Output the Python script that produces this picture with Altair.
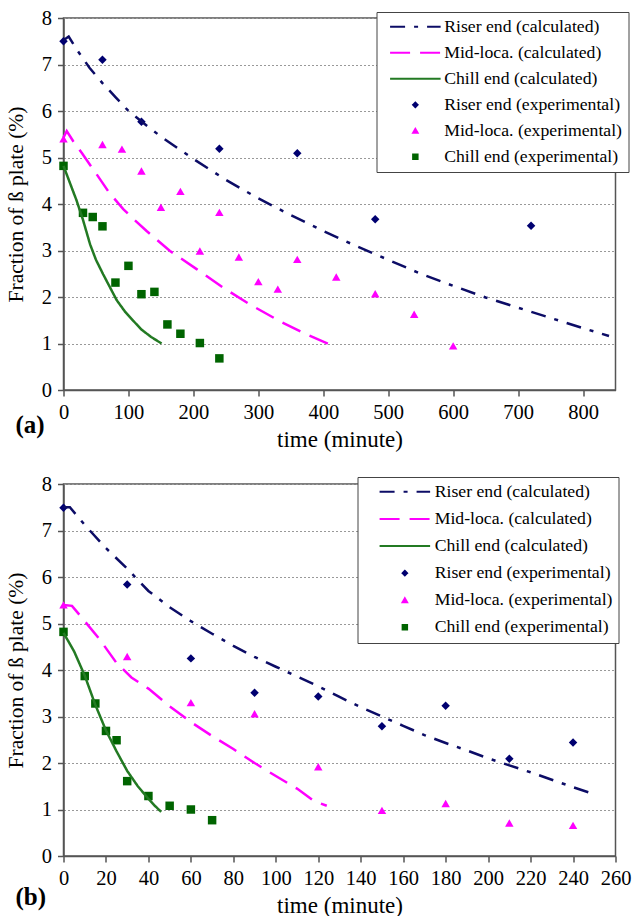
import altair as alt
import pandas as pd

SERIF = "Liberation Serif"

# ---------------- series names / styles ----------------
names_calc = ["Riser end (calculated)", "Mid-loca. (calculated)", "Chill end (calculated)"]
names_exp = ["Riser end (experimental)", "Mid-loca. (experimental)", "Chill end (experimental)"]
legend_order = names_calc + names_exp
series_colors = ["#0c0c66", "#ff00ff", "#237a23", "#000070", "#ff00ff", "#006400"]
stroke_path = "M-11.3,0L11.3,0"
series_shapes = [stroke_path, stroke_path, stroke_path, "diamond", "triangle-up", "square"]
series_dashes = [[15, 9, 4, 9], [20, 10], [1, 0], [1, 0], [1, 0], [1, 0]]

# ---------------- panel (a) data ----------------
a_riser_calc_t = [0, 8, 20, 40, 60, 80, 100, 125, 150, 200, 250, 300, 350, 400, 450, 500, 550, 600, 650, 700, 750, 800, 840]
a_riser_calc_v = [7.52, 7.6, 7.33, 6.93, 6.6, 6.3, 6.0, 5.72, 5.45, 4.97, 4.52, 4.12, 3.76, 3.42, 3.1, 2.8, 2.5, 2.24, 1.99, 1.77, 1.55, 1.33, 1.16]
a_mid_calc_t = [0, 5, 15, 28, 51, 70, 92, 110, 128, 164, 205, 246, 287, 333, 369, 415]
a_mid_calc_v = [5.43, 5.57, 5.35, 5.1, 4.64, 4.25, 3.89, 3.65, 3.42, 2.99, 2.6, 2.2, 1.84, 1.48, 1.23, 0.95]
a_chill_calc_t = [0, 10, 20, 30, 41, 50, 61, 70, 82, 95, 108, 120, 135, 151]
a_chill_calc_v = [4.82, 4.45, 4.08, 3.66, 3.13, 2.8, 2.49, 2.25, 1.93, 1.68, 1.48, 1.3, 1.14, 1.0]

a_riser_exp_t = [0, 60, 120, 240, 360, 480, 720]
a_riser_exp_v = [7.5, 7.1, 5.77, 5.19, 5.09, 3.67, 3.53]
a_mid_exp_t = [0, 60, 90, 120, 150, 180, 210, 240, 270, 300, 330, 360, 420, 480, 540, 600]
a_mid_exp_v = [5.4, 5.28, 5.18, 4.71, 3.93, 4.27, 2.99, 3.82, 2.86, 2.33, 2.17, 2.81, 2.43, 2.07, 1.63, 0.95]
a_chill_exp_t = [0, 30, 45, 60, 80, 100, 120, 140, 160, 180, 210, 240]
a_chill_exp_v = [4.82, 3.81, 3.72, 3.52, 2.31, 2.67, 2.06, 2.11, 1.41, 1.21, 1.01, 0.68]

a_x_ticks = [0, 100, 200, 300, 400, 500, 600, 700, 800]

# ---------------- panel (b) data ----------------
b_riser_calc_t = [0, 3, 10, 20, 30, 40, 50, 60, 70, 80, 90, 100, 110, 120, 130, 140, 150, 160, 170, 180, 190, 200, 210, 220, 230, 240, 248]
b_riser_calc_v = [7.5, 7.5, 7.12, 6.62, 6.18, 5.7, 5.35, 5.05, 4.78, 4.52, 4.28, 4.07, 3.86, 3.65, 3.42, 3.2, 3.0, 2.8, 2.6, 2.43, 2.27, 2.1, 1.95, 1.8, 1.64, 1.48, 1.36]
b_mid_calc_t = [0, 4, 10, 17, 25, 32, 40, 50, 60, 70, 80, 90, 100, 110, 118, 124]
b_mid_calc_v = [5.4, 5.38, 5.05, 4.66, 4.15, 3.84, 3.6, 3.22, 2.88, 2.58, 2.3, 2.0, 1.72, 1.45, 1.18, 1.08]
b_chill_calc_t = [0, 5, 10, 15, 20, 25, 30, 35, 40, 43, 46]
b_chill_calc_v = [4.8, 4.4, 3.88, 3.25, 2.7, 2.25, 1.83, 1.5, 1.23, 1.08, 0.95]

b_riser_exp_t = [0, 30, 60, 90, 120, 150, 180, 210, 240]
b_riser_exp_v = [7.49, 5.84, 4.25, 3.51, 3.43, 2.79, 3.23, 2.09, 2.44]
b_mid_exp_t = [0, 30, 60, 90, 120, 150, 180, 210, 240]
b_mid_exp_v = [5.4, 4.29, 3.3, 3.06, 1.92, 0.98, 1.13, 0.71, 0.66]
b_chill_exp_t = [0, 10, 15, 20, 25, 30, 40, 50, 60, 70]
b_chill_exp_v = [4.82, 3.87, 3.28, 2.69, 2.49, 1.61, 1.29, 1.08, 1.0, 0.77]

b_x_ticks = list(range(0, 261, 20))
y_ticks = [0, 1, 2, 3, 4, 5, 6, 7, 8]


def long_df(pairs):
    rows = []
    for name, ts, vs in pairs:
        for t, v in zip(ts, vs):
            rows.append({"series": name, "t": t, "v": v})
    return pd.DataFrame(rows)


def panel(calc_pairs, exp_pairs, xmax, xticks, lx, ly, sym_off, lab_off, row_pad, tag, tag_offset):
    lines_df = long_df(calc_pairs)
    pts_df = long_df(exp_pairs)
    legend = alt.Legend(
        title=None, orient="none", legendX=lx, legendY=ly,
        labelFont=SERIF, labelFontSize=17.7, labelColor="black", labelLimit=400,
        symbolSize=20, symbolStrokeWidth=2, symbolOffset=sym_off, labelOffset=lab_off,
        padding=6, rowPadding=row_pad, strokeColor="#444", fillColor="white",
    )
    color = alt.Color("series:N", scale=alt.Scale(domain=legend_order, range=series_colors), legend=legend)
    dash = alt.StrokeDash("series:N", scale=alt.Scale(domain=legend_order, range=series_dashes), legend=legend)
    shape = alt.Shape("series:N", scale=alt.Scale(domain=legend_order, range=series_shapes), legend=legend)
    x = alt.X("t:Q", scale=alt.Scale(domain=[0, xmax], nice=False),
              axis=alt.Axis(values=xticks, title="time (minute)", grid=False, labelOverlap=False,
                            labelFlush=False, titleFontSize=23))
    y = alt.Y("v:Q", scale=alt.Scale(domain=[0, 8], nice=False),
              axis=alt.Axis(values=y_ticks, title="Fraction of ß plate (%)", grid=True,
                            titleFontSize=21.5))
    pts = alt.Chart(pts_df).mark_point(filled=True, size=72, opacity=1).encode(
        x=x, y=y, color=color, shape=shape,
    )
    lines = alt.Chart(lines_df).mark_line(strokeWidth=2.5).encode(
        x=x, y=y, color=color, strokeDash=dash,
    )
    return alt.layer(pts, lines).properties(
        width=552, height=372,
        title=alt.TitleParams(tag, orient="bottom", anchor="start", frame="group", dx=-48, offset=tag_offset,
                              font=SERIF, fontSize=25, fontWeight="bold", color="black"),
    )


pa = panel(
    [(names_calc[0], a_riser_calc_t, a_riser_calc_v), (names_calc[1], a_mid_calc_t, a_mid_calc_v),
     (names_calc[2], a_chill_calc_t, a_chill_calc_v)],
    [(names_exp[0], a_riser_exp_t, a_riser_exp_v), (names_exp[1], a_mid_exp_t, a_mid_exp_v),
     (names_exp[2], a_chill_exp_t, a_chill_exp_v)],
    850, a_x_ticks, 313, -6, 24, 20, 7, "(a)", -39)

pb = panel(
    [(names_calc[0], b_riser_calc_t, b_riser_calc_v), (names_calc[1], b_mid_calc_t, b_mid_calc_v),
     (names_calc[2], b_chill_calc_t, b_chill_calc_v)],
    [(names_exp[0], b_riser_exp_t, b_riser_exp_v), (names_exp[1], b_mid_exp_t, b_mid_exp_v),
     (names_exp[2], b_chill_exp_t, b_chill_exp_v)],
    260, b_x_ticks, 294, -7, 32.5, 21, 8.1, "(b)", -33)

chart = (
    alt.vconcat(pa, pb, spacing=20)
    .resolve_scale(color="independent", strokeDash="independent", shape="independent")
    .resolve_legend(color="independent", strokeDash="independent", shape="independent")
    .properties(padding={"left": 4.5, "top": 7, "right": 0, "bottom": 0}, background="white")
    .configure_view(stroke="#555", strokeWidth=1.5)
    .configure_axis(
        labelFont=SERIF, titleFont=SERIF, labelFontSize=20.5,
        titleFontWeight="normal", labelColor="black", titleColor="black",
        domainColor="#555", tickColor="#555", domainWidth=1.5, tickWidth=1.5,
        tickSize=6, labelPadding=6,
    )
    .configure_axisX(titlePadding=6)
    .configure_axisY(titlePadding=14, gridColor="#999", gridDash=[2, 2], gridWidth=1)
)

chart.save("out.html", embed_options={"renderer": "svg", "actions": False})
